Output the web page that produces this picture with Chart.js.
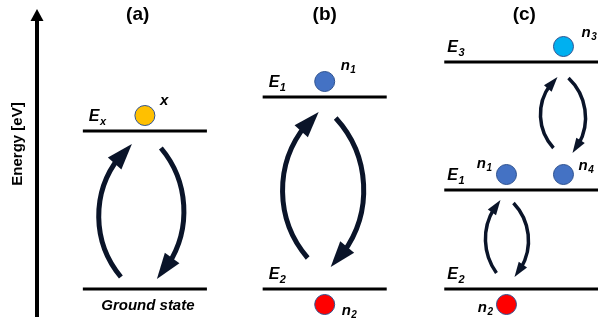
<!DOCTYPE html>
<html>
<head>
<meta charset="utf-8">
<script src="https://cdn.jsdelivr.net/npm/chart.js@4.4.1/dist/chart.umd.min.js"></script>
<style>
  html, body { margin: 0; padding: 0; background: #ffffff; }
  #wrap { width: 598px; height: 331px; }
</style>
</head>
<body>
<div id="wrap"><canvas id="levels" width="598" height="331"></canvas></div>
<script>
// ---- Energy-level data ----
const panelTitles = ['(a)', '(b)', '(c)'];
const levelNames = [['Ex', 'Ground state'], ['E1', 'E2'], ['E3', 'E1', 'E2']];
const levelEnergies = [[1.58, 0], [1.92, 0], [2.27, 0.99, 0]];   // eV (relative)
const particleNames = ['x', 'n1', 'n2', 'n3', 'n1', 'n4', 'n2'];
const particlePanel = [0, 1, 1, 2, 2, 2, 2];
const particleLevel = [0, 0, 1, 0, 1, 1, 2];
// transitions: [panel, upper level, lower level]
const transitions = [[0, 0, 1], [1, 0, 1], [2, 0, 1], [2, 1, 2]];

// ---- Layout & style ----
const FONT = "'Liberation Sans', Arial, sans-serif";
const INK = '#000000';
const ARROW_INK = '#0a1429';
const panelSpan = [[-0.345, 0.345], [0.655, 1.345], [1.665, 2.53]];   // level line extent (x units)
const titleX = [-0.04, 1.0, 2.11];
const levelLabelInset = [6, 6, 3];
const particleX = [0, 1, 1, 2.328, 2.011, 2.328, 2.011];
const particleSide = [1, 1, -1, 1, 1, 1, -1];          // above (+1) or below (-1) its level
const PARTICLE_GAP = 0.155;                              // energy units between level and particle centre
const particleColors = { x: '#FFC000', n1: '#4472C4', n2: '#FF0000', n3: '#00B0F0', n4: '#4472C4' };
// label placement relative to the particle centre: [dx, dy, align]
const particleLabelPos = [[15, -15, 'left'], [16, -16, 'left'], [17, 6, 'left'], [18, -14, 'left'],
                          [-14, -11, 'right'], [15, -9, 'left'], [-13, 3, 'right']];
// arc geometry per transition (pixels): up = [startDx, startDy(from lower), apexDx, endDx, endDy(from upper)]
//                                      down = [startDx, startDy(from upper), apexDx, endDx, endDy(from lower)]
const arcGeom = [
  { cx: 0,     w: 5,   head: [26, 18], up: [-24, -12, -46, -13, 13], down: [16, 17, 39, 12, -10] },
  { cx: 1,     w: 5,   head: [26, 18], up: [-17, -31, -42, -6, 15],  down: [11, 21, 39, 6, -22] },
  { cx: 2.328, w: 3.5, head: [15, 10], up: [-10, -42, -23, -6, 15],  down: [5, 16, 22, 9, -37] },
  { cx: 2.011, w: 3.5, head: [15, 10], up: [-10, -16, -21, -6, 10],  down: [7, 13, 22, 8, -12] }
];

// ---- Datasets built from the data arrays ----
const datasets = [];
levelEnergies.forEach((levels, p) => {
  levels.forEach((e) => {
    datasets.push({
      type: 'scatter', showLine: true, pointRadius: 0, borderWidth: 3.2,
      borderColor: INK, data: [{ x: panelSpan[p][0], y: e }, { x: panelSpan[p][1], y: e }]
    });
  });
});
datasets.push({
  type: 'scatter',
  data: particleNames.map((n, i) => ({
    x: particleX[i],
    y: levelEnergies[particlePanel[i]][particleLevel[i]] + particleSide[i] * PARTICLE_GAP
  })),
  pointRadius: 10,
  pointBackgroundColor: particleNames.map(n => particleColors[n]),
  pointBorderColor: '#2F528F',
  pointBorderWidth: 1
});

// text with a subscript: main glyph followed by a smaller lowered one
function subText(ctx, main, sub, x, y, size, align) {
  ctx.font = `italic bold ${size}px ${FONT}`;
  const wm = ctx.measureText(main).width;
  ctx.font = `italic bold ${Math.round(size * 0.66)}px ${FONT}`;
  const ws = sub ? ctx.measureText(sub).width : 0;
  let x0 = x;
  if (align === 'right') x0 = x - wm - ws - 1;
  ctx.textAlign = 'left';
  ctx.textBaseline = 'alphabetic';
  ctx.font = `italic bold ${size}px ${FONT}`;
  ctx.fillText(main, x0, y);
  if (sub) {
    ctx.font = `italic bold ${Math.round(size * 0.66)}px ${FONT}`;
    ctx.fillText(sub, x0 + wm + 0.5, y + size * 0.26);
  }
}

const diagramText = {
  id: 'diagramText',
  afterDatasetsDraw(chart) {
    const { ctx, scales: { x, y }, chartArea } = chart;
    ctx.save();
    ctx.fillStyle = INK;
    // axis arrowhead and title
    const ax = chartArea.left;
    ctx.beginPath();
    ctx.moveTo(ax, chartArea.top - 11);
    ctx.lineTo(ax - 6.5, chartArea.top + 1);
    ctx.lineTo(ax + 6.5, chartArea.top + 1);
    ctx.closePath();
    ctx.fill();
    ctx.save();
    ctx.translate(ax - 19, y.getPixelForValue(1.45));
    ctx.rotate(-Math.PI / 2);
    ctx.font = `bold 15px ${FONT}`;
    ctx.textAlign = 'center';
    ctx.textBaseline = 'middle';
    ctx.fillText('Energy [eV]', 0, 0);
    ctx.restore();

    // panel titles
    ctx.font = `bold 19px ${FONT}`;
    ctx.textAlign = 'center';
    ctx.textBaseline = 'middle';
    panelTitles.forEach((t, p) => ctx.fillText(t, x.getPixelForValue(titleX[p]), 15));

    // level labels
    levelNames.forEach((names, p) => {
      names.forEach((name, l) => {
        const ly = y.getPixelForValue(levelEnergies[p][l]);
        if (name.length > 2) {
          ctx.font = `italic bold 15px ${FONT}`;
          ctx.textAlign = 'center';
          ctx.textBaseline = 'alphabetic';
          const mid = (x.getPixelForValue(panelSpan[p][0]) + x.getPixelForValue(panelSpan[p][1])) / 2;
          ctx.fillText(name, mid + 3, ly + 21);
        } else {
          subText(ctx, name[0], name.slice(1), x.getPixelForValue(panelSpan[p][0]) + levelLabelInset[p], ly - 10, 16, 'left');
        }
      });
    });

    // particle labels
    particleNames.forEach((n, i) => {
      const cx = x.getPixelForValue(particleX[i]);
      const cy = y.getPixelForValue(levelEnergies[particlePanel[i]][particleLevel[i]] + particleSide[i] * PARTICLE_GAP);
      const [dx, dy, align] = particleLabelPos[i];
      subText(ctx, n[0], n.slice(1), cx + dx, cy + dy + 4, 15, align);
    });
    ctx.restore();
  }
};

// curved transition arrows: circular arcs through start, apex and end
function drawArc(ctx, S, A, E, width, head) {
  const ax = S.x, ay = S.y, bx = A.x, by = A.y, cx = E.x, cy = E.y;
  const d = 2 * (ax * (by - cy) + bx * (cy - ay) + cx * (ay - by));
  const ux = ((ax * ax + ay * ay) * (by - cy) + (bx * bx + by * by) * (cy - ay) + (cx * cx + cy * cy) * (ay - by)) / d;
  const uy = ((ax * ax + ay * ay) * (cx - bx) + (bx * bx + by * by) * (ax - cx) + (cx * cx + cy * cy) * (bx - ax)) / d;
  const R = Math.hypot(ax - ux, ay - uy);
  const TAU = Math.PI * 2;
  const ang = (p) => Math.atan2(p.y - uy, p.x - ux);
  const aS = ang(S), aA = ang(A), aE = ang(E);
  const dist = (a, b) => (((b - a) % TAU) + TAU) % TAU;
  const cw = dist(aS, aA) < dist(aS, aE);   // increasing angle passes through apex
  const [hl, hw] = head;
  const back = (hl * 0.7) / R;
  const aEnd = cw ? aE - back : aE + back;
  ctx.beginPath();
  ctx.arc(ux, uy, R, aS, aEnd, !cw);
  ctx.lineWidth = width;
  ctx.lineCap = 'butt';
  ctx.strokeStyle = ARROW_INK;
  ctx.stroke();
  // head aligned with the chord from a point one head-length back to the tip
  const aBase = cw ? aE - hl / R : aE + hl / R;
  const bxp = ux + R * Math.cos(aBase), byp = uy + R * Math.sin(aBase);
  let tx = cx - bxp, ty = cy - byp;
  const tl = Math.hypot(tx, ty); tx /= tl; ty /= tl;
  const baseX = cx - tx * hl, baseY = cy - ty * hl;
  ctx.beginPath();
  ctx.moveTo(cx, cy);
  ctx.lineTo(baseX - ty * hw / 2, baseY + tx * hw / 2);
  ctx.lineTo(baseX + ty * hw / 2, baseY - tx * hw / 2);
  ctx.closePath();
  ctx.fillStyle = ARROW_INK;
  ctx.fill();
}

const transitionArrows = {
  id: 'transitionArrows',
  afterDatasetsDraw(chart) {
    const { ctx, scales: { x, y } } = chart;
    ctx.save();
    transitions.forEach(([p, upper, lower], i) => {
      const g = arcGeom[i];
      const cx = x.getPixelForValue(g.cx);
      const yU = y.getPixelForValue(levelEnergies[p][upper]);
      const yL = y.getPixelForValue(levelEnergies[p][lower]);
      // excitation (upward, left arc)
      let S = { x: cx + g.up[0], y: yL + g.up[1] };
      let E = { x: cx + g.up[3], y: yU + g.up[4] };
      drawArc(ctx, S, { x: cx + g.up[2], y: (S.y + E.y) / 2 }, E, g.w, g.head);
      // relaxation (downward, right arc)
      S = { x: cx + g.down[0], y: yU + g.down[1] };
      E = { x: cx + g.down[3], y: yL + g.down[4] };
      drawArc(ctx, S, { x: cx + g.down[2], y: (S.y + E.y) / 2 }, E, g.w, g.head);
    });
    ctx.restore();
  }
};

new Chart(document.getElementById('levels'), {
  type: 'scatter',
  data: { datasets },
  options: {
    responsive: false,
    animation: false,
    devicePixelRatio: 1,
    events: [],
    layout: { autoPadding: false, padding: { top: 20, bottom: 15, left: 0, right: 0 } },
    plugins: { legend: { display: false }, tooltip: { enabled: false } },
    scales: {
      x: { type: 'linear', display: false, min: -0.6, max: 2.52 },
      y: {
        type: 'linear', min: -0.27, max: 2.69,
        border: { display: true, width: 4, color: INK },
        grid: { display: false, drawTicks: false },
        ticks: { display: false },
        afterFit(scale) { scale.width = 37; }
      }
    }
  },
  plugins: [transitionArrows, diagramText]
});
</script>
</body>
</html>
